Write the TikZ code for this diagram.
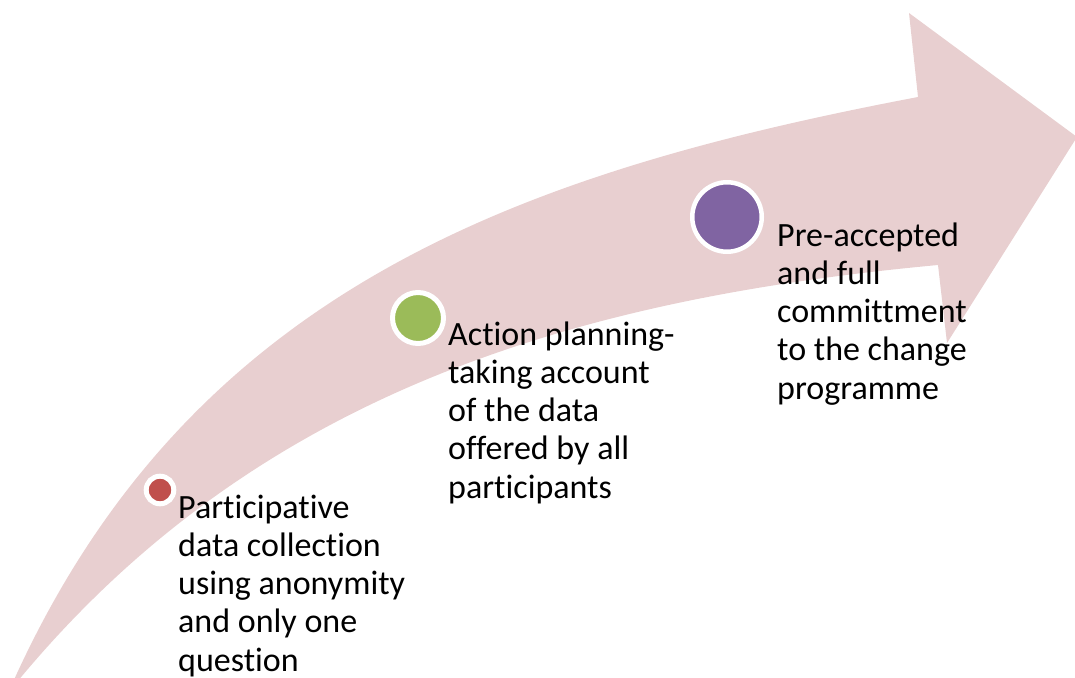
\documentclass[tikz,border=0pt]{standalone}
\usepackage{fontspec}
\setmainfont{Carlito}[Ligatures=CommonOff]
\usepackage{tikz}

\definecolor{arrowpink}{HTML}{E8CFD0}
\definecolor{stagered}{HTML}{C0504D}
\definecolor{stagegreen}{HTML}{9BBB59}
\definecolor{stagepurple}{HTML}{8064A2}

\begin{document}
\begin{tikzpicture}[x=1pt,y=-1pt,
    stagedot/.style={circle, draw=white, inner sep=0pt},
    stagetext/.style={anchor=base west, align=left, inner sep=0pt,
        font=\fontsize{34}{38.2}\selectfont}]
    % Keep the page to the picture
    \useasboundingbox (0,0) rectangle (1075,677);
    \clip (0,0) rectangle (1075,677);

    % Draw the curved arrow
    \fill[arrowpink] (13,682) .. controls (190,290) and (518,173) .. (918,97)
        -- (909,13) -- (1077,137) -- (947,343) -- (938,265)
        .. controls (560,300) and (250,400) .. (17,682) -- cycle;

    % Draw the stage markers
    \node[stagedot, fill=stagered, line width=5pt, minimum size=27.6pt] (dot1) at (160,490) {};
    \node[stagedot, fill=stagegreen, line width=5pt, minimum size=51pt] (dot2) at (418,318) {};
    \node[stagedot, fill=stagepurple, line width=4.5pt, minimum size=69.5pt] (dot3) at (727,217) {};

    % Label the stages (anchored at the last baseline)
    \node[stagetext] (text1) at (178,671) {Participative\\data collection\\using anonymity\\and only one\\question};
    \node[stagetext] (text2) at (448,498) {Action planning-\\taking account\\of the data\\offered by all\\participants};
    \node[stagetext] (text3) at (777,399) {Pre-accepted\\and full\\committment\\to the change\\programme};
\end{tikzpicture}
\end{document}
